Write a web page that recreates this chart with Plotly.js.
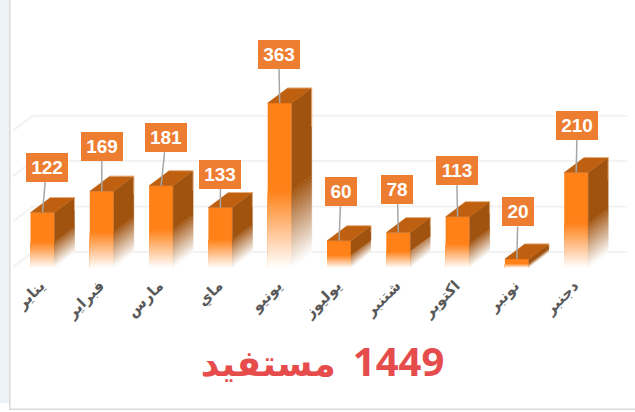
<!DOCTYPE html>
<html><head><meta charset="utf-8">
<script src="https://cdn.plot.ly/plotly-3.0.1.min.js"></script>
<style>
html,body{margin:0;padding:0;background:#fff;overflow:hidden}
#chart{position:absolute;left:0;top:0;width:635px;height:412px}
</style></head><body><div id="chart"></div>
<script>
const months = ['يناير','فبراير','مارس','ماي','يونيو','يوليوز','شتنبر','اكتوبر','نونبر','دجنبر'];
const beneficiaries = [122,169,181,133,363,60,78,113,20,210];
const gridValues = [0,100,200,300];
const titleNumber = '1449';
const titleWord = 'مستفيد';
const labelOffsetX = [4,0,5,0,-1,2,-1,-1,1,1];
const labelOffsetY = [-45,-45,-48,-33,-49,-49,-43,-46,-47,-47];

const W=635,H=412, baseY=268, pxPerUnit=0.4545, pxPerCat=59.3, firstX=42.5;
const depthX=20/pxPerCat, depthY=15/pxPerUnit, barW=24/pxPerCat;
const FADE=0.47, LEVELS=24;
function mix(c,t){
  return 'rgb('+c.map(v=>Math.round(255+(v-255)*t)).join(',')+')';
}
const FRONT=[255,129,24], SIDE=[160,83,15], TOP=[190,96,16];
const xs=months.map((m,i)=>i);
const traces=[];
for(let l=0;l<=LEVELS;l++){
  const top = l===0 ? 1 : FADE*(LEVELS-l+1)/LEVELS;
  const low = l===0 ? FADE : FADE*(LEVELS-l)/LEVELS;
  const t = l===0 ? 1 : (LEVELS-l+0.5)/LEVELS;
  traces.push({type:'bar',x:xs,width:barW,base:beneficiaries.map(()=>0),y:beneficiaries.map(v=>v*top),
    marker:{color:mix(FRONT,t),line:{width:0}},hoverinfo:'skip',showlegend:false});
  const sx=[],sy=[];
  beneficiaries.forEach((v,i)=>{
    const x0=i+barW/2,x1=x0+depthX;
    sx.push(x0,x1,x1,x0,x0,null);
    sy.push(v*low,v*low+depthY,v*top+depthY,v*top,v*low,null);
  });
  const col=mix(SIDE,t);
  traces.push({type:'scatter',mode:'lines',x:sx,y:sy,fill:'toself',fillcolor:col,line:{color:col,width:0.4},hoverinfo:'skip',showlegend:false});
}
const tx=[],ty=[],ex=[],ey=[];
beneficiaries.forEach((v,i)=>{
  const l=i-barW/2,r=i+barW/2;
  tx.push(l,l+depthX,r+depthX,r,l,null);
  ty.push(v,v+depthY,v+depthY,v,v,null);
  ex.push(l+depthX,r+depthX,r+depthX,null);
  ey.push(v+depthY,v+depthY,v*(1-FADE/2)+depthY,null);
});
traces.push({type:'scatter',mode:'lines',x:tx,y:ty,fill:'toself',fillcolor:mix(TOP,1),line:{color:mix(TOP,1),width:0.5},hoverinfo:'skip',showlegend:false});
traces.push({type:'scatter',mode:'lines',x:ex,y:ey,line:{color:'rgba(245,190,145,0.7)',width:1},hoverinfo:'skip',showlegend:false});

const shapes=[];
const wallL=-depthX*0.48, floorL=wallL-depthX, gridShift=1/pxPerUnit;
gridValues.forEach(g=>{
  const y=g+depthY+gridShift;
  shapes.push({type:'line',layer:'below',xref:'x',yref:'y',x0:wallL,x1:9.86,y0:y,y1:y,line:{color:'#f2f2f2',width:2}});
  shapes.push({type:'line',layer:'below',xref:'x',yref:'y',x0:floorL,x1:wallL,y0:g+gridShift,y1:y,line:{color:'#f2f2f2',width:2}});
});
const px=v=>v/W, py=v=>(baseY-v)/baseY;
shapes.push({type:'rect',layer:'below',xref:'paper',yref:'paper',x0:px(0),x1:px(9),y0:py(0),y1:py(403),fillcolor:'#EDF4F9',line:{width:0}});
shapes.push({type:'rect',layer:'below',xref:'paper',yref:'paper',x0:px(9),x1:px(10.5),y0:py(0),y1:py(410),fillcolor:'#d9d9d9',line:{width:0}});
shapes.push({type:'rect',layer:'below',xref:'paper',yref:'paper',x0:px(9),x1:px(635),y0:py(408.5),y1:py(410),fillcolor:'#d9d9d9',line:{width:0}});

const annotations=beneficiaries.map((v,i)=>({
  x:i,y:v,xref:'x',yref:'y',text:'<b>'+v+'</b>',showarrow:true,arrowhead:0,arrowwidth:1.5,arrowcolor:'#a6a6a6',
  ax:labelOffsetX[i],ay:labelOffsetY[i],axref:'pixel',ayref:'pixel',standoff:0,startstandoff:0,
  bgcolor:'#ED7D31',borderpad:0,borderwidth:0,width:String(v).length>2?42:32,height:29,
  align:'center',valign:'middle',font:{family:'Liberation Sans, Arial, sans-serif',size:19,color:'#fff'}
}));

const layout={
  width:W,height:H,margin:{l:0,r:0,t:0,b:H-baseY,pad:0},
  paper_bgcolor:'#fff',plot_bgcolor:'rgba(0,0,0,0)',barmode:'overlay',showlegend:false,
  title:{text:'<b>\u200F'+titleNumber+'\u2009 <span style="font-size:36px">'+titleWord+'</span></b>',x:0.508,xanchor:'center',xref:'paper',y:1-362/H,yanchor:'middle',
    font:{family:'Open Sans, DejaVu Sans, sans-serif',size:40,color:'#E64C4C'}},
  xaxis:{range:[-firstX/pxPerCat,(W-firstX)/pxPerCat],tickmode:'array',tickvals:xs,ticktext:months.map(m=>'<b>'+m+'</b>'),tickangle:-45,
    showgrid:false,zeroline:false,showline:false,ticks:'',ticklabelstandoff:5,ticklabelshift:-2,
    tickfont:{family:'DejaVu Sans, sans-serif',size:15,color:'#595959'}},
  yaxis:{range:[0,baseY/pxPerUnit],visible:false},
  shapes,annotations
};
Plotly.newPlot('chart',traces,layout,{displayModeBar:false,staticPlot:true});
</script></body></html>
